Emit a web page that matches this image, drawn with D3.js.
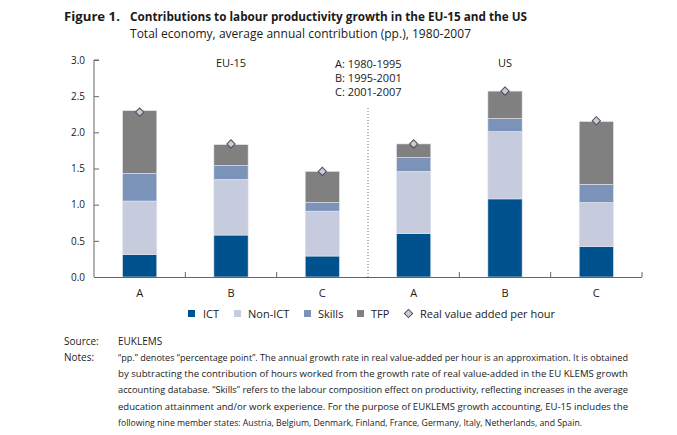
<!DOCTYPE html>
<html><head><meta charset="utf-8">
<script src="https://cdn.jsdelivr.net/npm/d3@7"></script>
<style>
body{margin:0;background:#fff;}
svg text{font-family:"Open Sans","Noto Sans",sans-serif;fill:#1a1a1a;}
</style></head>
<body>
<svg id="c" width="677" height="435"></svg>
<script>
const categories = ["A","B","C","A","B","C"];
const regions = ["EU-15","EU-15","EU-15","US","US","US"];
const ict    = [0.31, 0.58, 0.29, 0.60, 1.08, 0.42];
const nonIct = [0.74, 0.77, 0.62, 0.86, 0.93, 0.61];
const skills = [0.38, 0.19, 0.12, 0.19, 0.18, 0.25];
const tfp    = [0.87, 0.29, 0.43, 0.19, 0.38, 0.87];
const rva    = [2.28, 1.84, 1.46, 1.84, 2.57, 2.16];
const yTicks = [0.0, 0.5, 1.0, 1.5, 2.0, 2.5, 3.0];
const seriesNames = ["ICT","Non-ICT","Skills","TFP"];
const periods = ["A: 1980-1995","B: 1995-2001","C: 2001-2007"];
const colors = ["#00528e","#c6cbdd","#7b93b9","#808080"];

(function(){
const svg = d3.select("#c");
const pL = 94, pR = 642, pT = 60, pB = 277;
const x = d3.scaleBand().domain(d3.range(categories.length)).range([pL, pR]).paddingInner(0.625).paddingOuter(0.3125);
const xb = d3.scaleBand().domain(d3.range(categories.length)).range([pL, pR]);
const y = d3.scaleLinear().domain([0, 3]).range([pB, pT]);

function fit(sel, target, base, stretch){
  sel.attr("font-size", base);
  const w = sel.node().getComputedTextLength();
  if (w > target) sel.attr("font-size", base * target / w);
  if (stretch) sel.attr("textLength", target).attr("lengthAdjust","spacing");
  return sel;
}

// Title
svg.append("text").attr("x",64).attr("y",21).attr("font-weight","bold").attr("font-size",13.2).text("Figure 1.");
fit(svg.append("text").attr("x",130).attr("y",21).attr("font-weight","bold").text("Contributions to labour productivity growth in the EU-15 and the US"), 397, 13.2, true);
fit(svg.append("text").attr("x",130).attr("y",38).text("Total economy, average annual contribution (pp.), 1980-2007"), 341, 12, true);

// stacked data
const rows = categories.map((c,i)=>({i, ICT:ict[i], "Non-ICT":nonIct[i], Skills:skills[i], TFP:tfp[i]}));
const stack = d3.stack().keys(seriesNames)(rows);
svg.append("g").selectAll("g").data(stack).join("g").attr("fill",(d,k)=>colors[k])
  .selectAll("rect").data(d=>d).join("rect")
  .attr("x",d=>x(d.data.i)).attr("width",x.bandwidth())
  .attr("y",d=>y(d[1])).attr("height",d=>y(d[0])-y(d[1]))
  .attr("stroke","#e4e8f0").attr("stroke-width",0.6);

// diamonds
const sym = d3.symbol().type(d3.symbolSquare).size(34);
svg.append("g").selectAll("path").data(rva).join("path")
  .attr("d",sym).attr("transform",(d,i)=>`translate(${x(i)+x.bandwidth()/2},${y(d)}) rotate(45)`)
  .attr("fill","#c6cbdd").attr("stroke","#4d4d4d").attr("stroke-width",1);

// y axis
const ya = svg.append("g").attr("transform",`translate(${pL},0)`)
  .call(d3.axisRight(y).tickValues(yTicks).tickSize(5).tickFormat(d3.format(".1f")));
ya.select(".domain").attr("stroke","#666").attr("d",`M5,${pT}H0V${pB}`);
ya.selectAll(".tick line").attr("stroke","#666");
ya.selectAll(".tick text").attr("x",-9).attr("text-anchor","end").attr("font-size",10).attr("fill","#1a1a1a");

// x axis
const xg = svg.append("g");
xg.append("line").attr("x1",pL).attr("x2",pR).attr("y1",pB+0.5).attr("y2",pB+0.5).attr("stroke","#666");
[1,2,4,5,6].forEach(i=>{
  const xx = i<6 ? xb(i) : pR;
  xg.append("line").attr("x1",xx).attr("x2",xx).attr("y1",pB).attr("y2",pB-5).attr("stroke","#666");
});
xg.selectAll("text").data(categories).join("text")
  .attr("x",(d,i)=>x(i)+x.bandwidth()/2).attr("y",297).attr("text-anchor","middle").attr("font-size",11).text(d=>d);

// divider
svg.append("line").attr("x1",xb(3)).attr("x2",xb(3)).attr("y1",108).attr("y2",pB)
  .attr("stroke","#777").attr("stroke-dasharray","1,2");

// region labels
svg.append("text").attr("x",(xb(1)+xb.bandwidth()/2)).attr("y",67).attr("text-anchor","middle").attr("font-size",11).text("EU-15");
svg.append("text").attr("x",(xb(4)+xb.bandwidth()/2)).attr("y",67).attr("text-anchor","middle").attr("font-size",11).text("US");
periods.forEach((p,k)=>svg.append("text").attr("x",335).attr("y",68+k*14).attr("font-size",11).text(p));

// legend
const lg = svg.append("g");
const sqX = [188,234,304,357], txX = [203,248,318,371];
seriesNames.forEach((n,k)=>{
  lg.append("rect").attr("x",sqX[k]).attr("y",310).attr("width",7).attr("height",7).attr("fill",colors[k]);
  lg.append("text").attr("x",txX[k]).attr("y",317.5).attr("font-size",11).text(n);
});
lg.append("path").attr("d",sym).attr("transform","translate(408.5,313.5) rotate(45)").attr("fill","#c6cbdd").attr("stroke","#4d4d4d");
lg.append("text").attr("x",420).attr("y",317.5).attr("font-size",11).text("Real value added per hour");

// footnotes
const fs = 10;
svg.append("text").attr("x",64).attr("y",345).attr("font-size",fs).text("Source:");
svg.append("text").attr("x",118).attr("y",345).attr("font-size",fs).text("EUKLEMS");
svg.append("text").attr("x",64).attr("y",361).attr("font-size",fs).text("Notes:");
const notes = [
 "\u201Cpp.\u201D denotes \u201Cpercentage point\u201D. The annual growth rate in real value-added per hour is an approximation. It is obtained",
 "by subtracting the contribution of hours worked from the growth rate of real value-added in the EU KLEMS growth",
 "accounting database. \u201CSkills\u201D refers to the labour composition effect on productivity, reflecting increases in the average",
 "education attainment and/or work experience. For the purpose of EUKLEMS growth accounting, EU-15 includes the",
 "following nine member states: Austria, Belgium, Denmark, Finland, France, Germany, Italy, Netherlands, and Spain."
];
notes.forEach((t,k)=>{
  const el = svg.append("text").attr("x",118).attr("y",361+k*16.2).text(t);
  fit(el, k<4 ? 510 : 464, fs, true);
});
})();
</script>
</body></html>
